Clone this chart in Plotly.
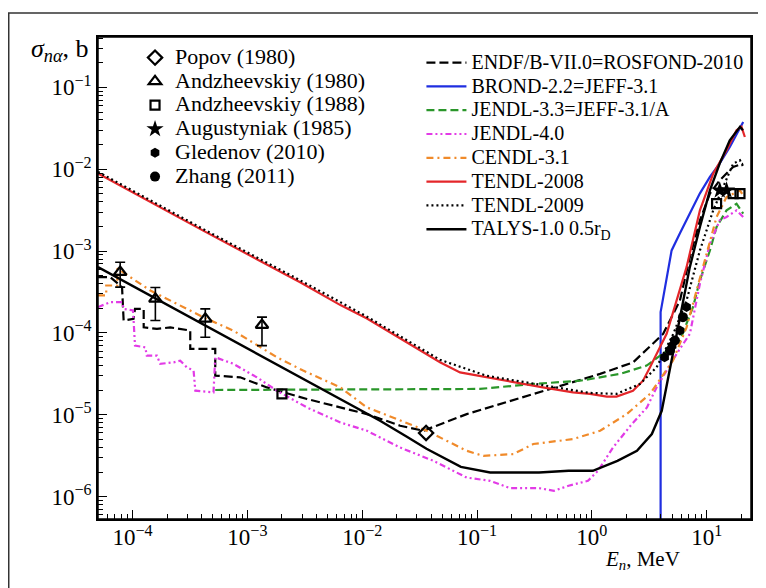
import plotly.graph_objects as go

# ---------------- evaluated data (E in MeV, sigma in b) ----------------
endf_E = [5.0e-5, 6.4e-5, 8.1e-5, 8.36e-5, 1.02e-4, 1.05e-4, 1.25e-4, 1.25e-4, 1.63e-4, 2.13e-4,
          3.18e-4, 3.18e-4, 5.25e-4, 5.25e-4, 8.65e-4, 1.48e-3, 3.30e-3, 6.46e-3, 1.10e-2, 2.14e-2,
          3.41e-2, 8.13e-2, 0.222, 0.604, 1.18, 2.29, 4.18, 5.85, 7.14, 8.73, 10.67, 13.0, 17.0, 20.8]
endf_S = [4.81e-4, 4.81e-4, 3.62e-4, 1.42e-4, 1.49e-4, 1.97e-4, 1.97e-4, 1.17e-4, 1.12e-4, 1.17e-4,
          1.07e-4, 6.38e-5, 6.38e-5, 3.01e-5, 2.87e-5, 2.16e-5, 1.56e-5, 1.23e-5, 1.02e-5, 7.36e-6,
          6.38e-6, 1.02e-5, 1.56e-5, 2.38e-5, 3.16e-5, 4.38e-5, 9.75e-5, 2.49e-4, 8.45e-4, 2.38e-3,
          5.04e-3, 7.33e-3, 1.07e-2, 1.17e-2]

brond_E = [3.97, 3.97, 4.05, 4.59, 4.95, 5.85, 7.14, 8.73, 10.67, 13.0, 15.9, 19.5, 20.8]
brond_S = [1e-9, 1.8e-4, 2.1e-4, 5.33e-4, 1.02e-3, 1.65e-3, 2.89e-3, 5.08e-3, 8.05e-3, 1.18e-2,
           1.87e-2, 3.30e-2, 3.79e-2]

jendl33_E = [5.25e-4, 0.106, 0.307, 0.789, 1.76, 3.0, 4.16, 5.85, 7.59, 8.73, 10.67, 12.2, 14.9, 18.2, 20.8]
jendl33_S = [2.01e-5, 2.07e-5, 2.38e-5, 2.61e-5, 3.16e-5, 3.99e-5, 5.6e-5, 8.07e-5, 2.06e-4, 4.38e-4,
             1.02e-3, 1.97e-3, 3.15e-3, 3.8e-3, 2.87e-3]

jendl40_E = [5.0e-5, 6.4e-5, 8.1e-5, 8.36e-5, 1.01e-4, 1.05e-4, 1.29e-4, 1.33e-4, 1.63e-4, 1.74e-4,
             2.28e-4, 2.60e-4, 2.97e-4, 3.40e-4, 3.52e-4, 5.07e-4, 5.25e-4, 7.57e-4, 1.21e-3, 1.81e-3,
             3.30e-3, 6.46e-3, 1.10e-2, 2.14e-2, 4.17e-2, 8.13e-2, 0.130, 0.194, 0.347, 0.468,
             0.627, 0.925, 1.13, 1.53, 2.23, 3.02, 3.66, 5.47, 7.14, 8.73, 10.67, 13.0, 14.9, 18.2, 20.8]
jendl40_S = [2.07e-4, 2.38e-4, 2.38e-4, 1.97e-4, 1.88e-4, 7.0e-5, 6.68e-5, 5.28e-5, 5.28e-5, 4.19e-5,
             4.38e-5, 4.59e-5, 3.80e-5, 3.47e-5, 1.97e-5, 1.88e-5, 5.05e-5, 4.19e-5, 2.87e-5, 1.97e-5,
             1.23e-5, 8.07e-6, 6.38e-6, 3.98e-6, 2.74e-6, 1.71e-6, 1.56e-6, 1.27e-6, 1.27e-6, 1.18e-6,
             1.36e-6, 1.56e-6, 2.07e-6, 3.99e-6, 7.71e-6, 1.23e-5, 2.16e-5, 5.55e-5, 9.75e-5, 3.99e-4,
             1.23e-3, 2.38e-3, 2.61e-3, 3.15e-3, 2.61e-3]

cendl_E = [5.0e-5, 5.9e-5, 5.9e-5, 7.36e-5, 7.36e-5, 1.43e-4, 4.12e-4, 7.52e-4, 1.81e-3, 3.06e-3,
           6.46e-3, 1.10e-2, 3.65e-2, 8.13e-2, 0.1135, 0.207, 0.309, 0.689, 1.18, 2.01,
           3.21, 5.08, 6.68, 8.73, 10.67, 12.2, 14.9, 19.5, 20.8]
cendl_S = [2.88e-4, 2.88e-4, 3.8e-4, 3.8e-4, 6.14e-4, 3.30e-4, 1.56e-4, 1.07e-4, 5.05e-5, 3.47e-5,
           2.16e-5, 1.23e-5, 6.38e-6, 3.63e-6, 3.15e-6, 3.31e-6, 4.40e-6, 5.06e-6, 6.38e-6, 1.02e-5,
           1.80e-5, 4.59e-5, 1.17e-4, 4.81e-4, 1.35e-3, 2.61e-3, 4.58e-3, 5.5e-3, 4.8e-3]

tendl08_E = [5.0e-5, 4.12e-4, 2.88e-3, 6.46e-3, 1.10e-2, 2.61e-2, 4.76e-2, 7.11e-2, 0.121, 0.222,
             0.375, 0.686, 0.964, 1.35, 1.64, 2.28, 2.79, 3.21, 4.48, 6.68, 8.73, 11.4, 14.9, 18.2, 20.1, 21.5]
tendl08_S = [8.9e-3, 1.78e-3, 4.17e-4, 2.19e-4, 1.50e-4, 7.36e-5, 4.38e-5, 3.30e-5, 2.87e-5, 2.49e-5,
             2.16e-5, 1.88e-5, 1.80e-5, 1.67e-5, 1.67e-5, 1.97e-5, 2.61e-5, 3.80e-5, 9.75e-5, 6.37e-4,
             3.15e-3, 8.85e-3, 1.71e-2, 3.0e-2, 3.30e-2, 2.48e-2]

tendl09_E = [5.0e-5, 4.12e-4, 2.88e-3, 1.10e-2, 4.76e-2, 0.121, 0.375, 0.964, 1.64, 2.62, 3.66, 5.12,
             6.68, 8.73, 11.4, 13.9, 17.0, 19.5, 20.8]
tendl09_S = [9.3e-3, 1.86e-3, 4.4e-4, 1.58e-4, 4.7e-5, 3.0e-5, 2.3e-5, 1.85e-5, 1.8e-5, 2.38e-5, 3.8e-5,
             9.75e-5, 2.5e-4, 1.02e-3, 3.15e-3, 6.07e-3, 1.17e-2, 1.29e-2, 1.07e-2]

talys_E = [5.0e-5, 6.42e-3, 1.43e-2, 2.45e-2, 3.63e-2, 7.23e-2, 0.130, 0.347, 0.627, 1.02, 1.67, 2.47,
           3.33, 4.06, 4.94, 5.85, 7.13, 8.73, 10.67, 13.0, 15.9, 19.5, 20.7]
talys_S = [6.37e-4, 1.56e-5, 8.47e-6, 5.4e-6, 3.85e-6, 2.31e-6, 1.97e-6, 1.97e-6, 2.07e-6, 2.07e-6,
           2.74e-6, 3.63e-6, 5.82e-6, 1.12e-5, 4.59e-5, 1.42e-4, 6.37e-4, 1.97e-3, 5.53e-3, 1.18e-2,
           2.26e-2, 3.30e-2, 3.0e-2]

# ---------------- experimental data ----------------
popov_E = [0.036]
popov_S = [6.0e-6]

andz80_E = [7.8e-5, 1.58e-4, 4.3e-4, 1.34e-3]
andz80_S = [5.55e-4, 2.61e-4, 1.49e-4, 1.25e-4]
andz80_up = [1.75e-4, 0.99e-4, 0.48e-4, 0.31e-4]
andz80_dn = [1.92e-4, 1.19e-4, 0.605e-4, 0.55e-4]

andz88_E = [2.0e-3, 12.2, 17.0, 19.5]
andz88_S = [1.8e-5, 3.8e-3, 5.05e-3, 5.05e-3]

augu_E = [13.0, 14.9]
augu_S = [5.53e-3, 5.53e-3]

gled_E = [4.3, 5.0, 5.85, 6.68]
gled_S = [5.05e-5, 7.0e-5, 1.07e-4, 2.07e-4]

zhang_E = [4.79, 5.29, 6.21]
zhang_S = [6.1e-5, 8.07e-5, 1.56e-4]

# ---------------- tick labels ----------------
x_tickvals = [1e-4, 1e-3, 1e-2, 1e-1, 1, 10]
x_ticktext = ["10<sup>−4</sup>", "10<sup>−3</sup>", "10<sup>−2</sup>", "10<sup>−1</sup>",
              "10<sup>0</sup>", "10<sup>1</sup>"]
y_tickvals = [1e-6, 1e-5, 1e-4, 1e-3, 1e-2, 1e-1]
y_ticktext = ["10<sup>−6</sup>", "10<sup>−5</sup>", "10<sup>−4</sup>", "10<sup>−3</sup>",
              "10<sup>−2</sup>", "10<sup>−1</sup>"]

# ---------------- styling ----------------
SERIF = '"Liberation Serif", "Times New Roman", serif'


def nm(s, px=20):
    return '<span style="font-size:%dpx">' % px + s + '</span>'


fig = go.Figure()

evals = [
    ("ENDF/B-VII.0=ROSFOND-2010", endf_E, endf_S, "black", "9px,4px", 2.2),
    ("BROND-2.2=JEFF-3.1", brond_E, brond_S, "#1f2ee0", "solid", 2.2),
    ("JENDL-3.3=JEFF-3.1/A", jendl33_E, jendl33_S, "#2a962a", "8px,4px", 2.2),
    ("JENDL-4.0", jendl40_E, jendl40_S, "#e23be6", "6px,3px,2px,3px,2px,3px", 2.2),
    ("CENDL-3.1", cendl_E, cendl_S, "#f08a2a", "7px,4px,2px,4px", 2.2),
    ("TENDL-2008", tendl08_E, tendl08_S, "#e4262a", "solid", 2.2),
    ("TENDL-2009", tendl09_E, tendl09_S, "black", "2px,3px", 2.2),
    ("TALYS-1.0 0.5r<sub>D</sub>", talys_E, talys_S, "black", "solid", 2.4),
]
for name, xs, ys, col, dash, w in evals:
    fig.add_trace(go.Scatter(x=xs, y=ys, mode="lines", name=nm(name), legend="legend2",
                             line=dict(color=col, dash=dash, width=w)))

mk_line = dict(color="black", width=2.2)
fig.add_trace(go.Scatter(x=popov_E, y=popov_S, mode="markers", name=nm("Popov (1980)", 22),
                         marker=dict(symbol="diamond-open", size=11, color="black", line=mk_line)))
fig.add_trace(go.Scatter(x=andz80_E, y=andz80_S, mode="markers", name=nm("Andzheevskiy (1980)", 22),
                         marker=dict(symbol="triangle-up-open", size=11, color="black", line=mk_line),
                         error_y=dict(type="data", array=andz80_up, arrayminus=andz80_dn, symmetric=False,
                                      color="black", thickness=1.6, width=5)))
fig.add_trace(go.Scatter(x=andz88_E, y=andz88_S, mode="markers", name=nm("Andzheevskiy (1988)", 22),
                         marker=dict(symbol="square-open", size=9, color="black", line=mk_line)))
fig.add_trace(go.Scatter(x=augu_E, y=augu_S, mode="markers", name=nm("Augustyniak (1985)", 22),
                         marker=dict(symbol="star", size=13, color="black", line=dict(width=0))))
fig.add_trace(go.Scatter(x=gled_E, y=gled_S, mode="markers", name=nm("Gledenov (2010)", 22),
                         marker=dict(symbol="hexagon", size=10, color="black", line=dict(width=0))))
fig.add_trace(go.Scatter(x=zhang_E, y=zhang_S, mode="markers", name=nm("Zhang (2011)", 22),
                         marker=dict(symbol="circle", size=10, color="black", line=dict(width=0))))

tickfont = dict(family=SERIF, size=23, color="black")
common = dict(type="log", showgrid=False, zeroline=False, showline=True, linecolor="black",
              linewidth=1.5, mirror=True, ticks="inside", ticklen=9, tickwidth=1.3,
              tickcolor="black", tickmode="array", tickfont=tickfont,
              minor=dict(ticks="inside", ticklen=5, tickwidth=1.1, tickcolor="black", dtick="D1",
                         tickmode="linear", showgrid=False))

fig.update_xaxes(range=[-4.301, 1.386], tickvals=x_tickvals, ticktext=x_ticktext,
                 ticklabelstandoff=-3, **common)
fig.update_yaxes(range=[-6.273, -0.384], tickvals=y_tickvals, ticktext=y_ticktext, **common)

# the page body adds an 8px margin, so the figure is 8px smaller than the window
fig.update_layout(
    width=758, height=580,
    margin=dict(l=90, r=15, t=29, b=69),
    paper_bgcolor="white", plot_bgcolor="white",
    font=dict(family=SERIF, color="black"),
    showlegend=True,
    legend=dict(x=0.0567, y=0.9923, xanchor="left", yanchor="top", bgcolor="rgba(0,0,0,0)",
                font=dict(family=SERIF, size=16, color="black"), itemsizing="trace"),
    legend2=dict(x=0.4953, y=0.982, xanchor="left", yanchor="top", bgcolor="rgba(0,0,0,0)",
                 font=dict(family=SERIF, size=16, color="black"), itemwidth=40),
    annotations=[
        dict(text="<i>σ</i><sub><i>nα</i></sub>, b", xref="paper", yref="paper",
             x=-0.0115, y=0.973, xanchor="right", yanchor="middle", showarrow=False,
             font=dict(family=SERIF, size=26, color="black")),
        dict(text="<i>E</i><sub><i>n</i></sub>, MeV", xref="paper", yref="paper",
             x=0.8346, y=-0.085, xanchor="center", yanchor="middle", showarrow=False,
             font=dict(family=SERIF, size=21, color="black")),
    ],
    shapes=[
        dict(type="rect", xref="paper", yref="paper", x0=-0.1367, x1=1.2, y0=-0.4, y1=1.0498,
             line=dict(color="#333333", width=1.5), fillcolor="rgba(0,0,0,0)", layer="below"),
        dict(type="rect", xref="paper", yref="paper", x0=0, x1=1, y0=0, y1=1,
             line=dict(color="black", width=1.5), fillcolor="rgba(0,0,0,0)", layer="above"),
    ],
)

fig.write_html("out.html")
